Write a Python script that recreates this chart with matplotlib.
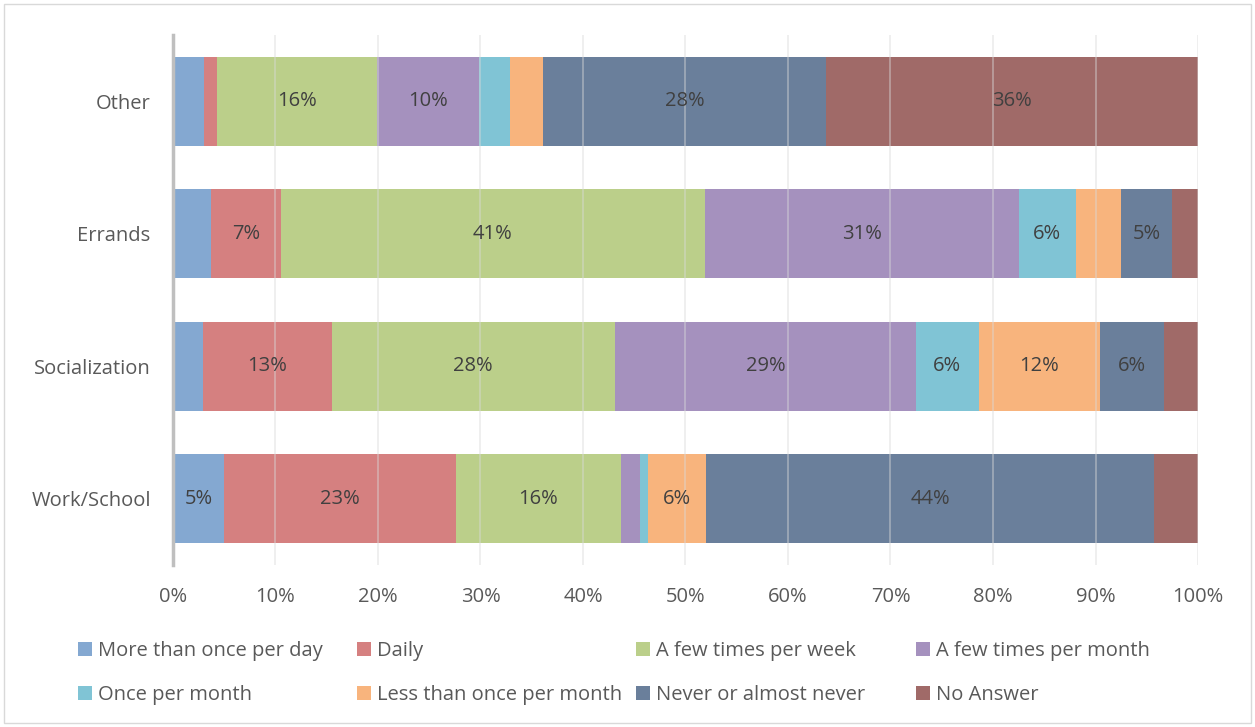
import matplotlib
matplotlib.use("Agg")
import matplotlib.pyplot as plt
from matplotlib.patches import Rectangle, Patch
import numpy as np

plt.rcParams['font.family'] = ['Open Sans', 'DejaVu Sans']

categories = ["Work/School", "Socialization", "Errands", "Other"]
series_names = ["More than once per day", "Daily", "A few times per week",
                "A few times per month", "Once per month",
                "Less than once per month", "Never or almost never", "No Answer"]
# values per series (percent), order matches categories
more_than_once = [5.0, 2.9, 3.7, 3.0]
daily = [22.6, 12.6, 6.8, 1.3]
few_week = [16.1, 27.6, 41.4, 15.6]
few_month = [1.9, 29.4, 30.6, 10.0]
once_month = [0.7, 6.1, 5.6, 3.0]
less_once = [5.7, 11.8, 4.4, 3.2]
never = [43.7, 6.3, 5.0, 27.6]
no_answer = [4.3, 3.3, 2.5, 36.3]
series = [more_than_once, daily, few_week, few_month, once_month, less_once, never, no_answer]
colors = ["#84A8D1", "#D58080", "#BBCF8A", "#A591BE", "#80C4D5", "#F8B47D", "#6A7F9B", "#A06A68"]

FS = 14.5
fig = plt.figure(figsize=(12.55, 7.27), dpi=100)
ax = fig.add_axes([0.1378, 0.2228, 0.8168, 0.7291])

y = np.arange(len(categories))
left = np.zeros(len(categories))
for vals, name, c in zip(series, series_names, colors):
    vals = np.array(vals)
    ax.barh(y, vals, left=left, height=0.67, color=c, label=name, zorder=2)
    for yi, v, l in zip(y, vals, left):
        if round(v) >= 5:
            ax.text(l + v / 2, yi, f"{round(v):.0f}%", ha='center', va='center',
                    fontsize=FS, color='#404040', zorder=4)
    left += vals

ax.set_xlim(0, 100)
ax.set_ylim(-0.5, 3.5)
ax.set_xticks(np.arange(0, 101, 10))
ax.set_xticklabels([f"{t}%" for t in range(0, 101, 10)])
ax.set_yticks(y)
ax.set_yticklabels(categories)
ax.tick_params(axis='both', length=0, labelsize=FS, colors='#595959')
ax.tick_params(axis='x', pad=16)
ax.tick_params(axis='y', pad=16)
ax.xaxis.grid(True, color='#d9d9d9', linewidth=1.2, zorder=3, alpha=0.5)
ax.set_axisbelow(False)
for s in ['top', 'right', 'bottom']:
    ax.spines[s].set_visible(False)
ax.spines['left'].set_color('#bfbfbf')
ax.spines['left'].set_linewidth(2.5)
ax.spines['left'].set_zorder(5)

# legend: 4 columns of 2 rows, laid out row-wise
col_x = [78, 357, 636, 916]
for ci, xpx in enumerate(col_x):
    idx = [ci, ci + 4]
    handles = [Patch(facecolor=colors[i], edgecolor='none') for i in idx]
    labels = [series_names[i] for i in idx]
    fig.legend(handles, labels, loc='upper left',
               bbox_to_anchor=(xpx / 1255, 1 - 641 / 727),
               frameon=False, fontsize=FS, handlelength=0.7, handleheight=0.7,
               handletextpad=0.3, labelspacing=1.2, borderaxespad=0, borderpad=0,
               labelcolor='#595959')

fig.patches.append(Rectangle((4 / 1255, 4 / 727), 1247 / 1255, 719 / 727,
                             transform=fig.transFigure, fill=False,
                             edgecolor='#d9d9d9', linewidth=1))

fig.savefig("out.png", dpi=100, facecolor='white')
